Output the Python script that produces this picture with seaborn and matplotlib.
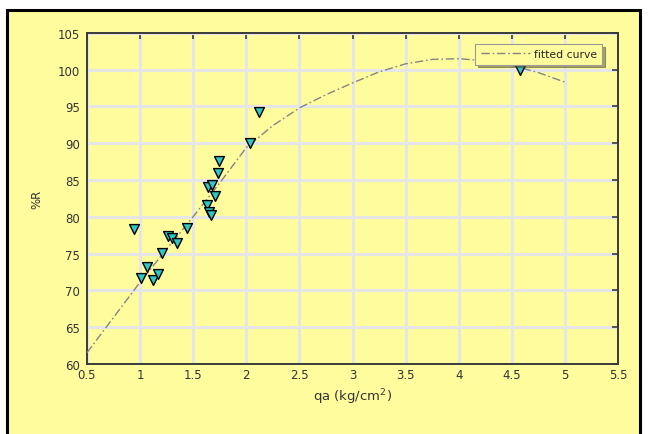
import matplotlib
matplotlib.use("Agg")
import matplotlib.pyplot as plt
import seaborn as sns
import pandas as pd
from matplotlib.patches import Rectangle

# Measured points: allowable bearing qa versus recovery %R
qa_obs = [0.94, 1.01, 1.07, 1.12, 1.17, 1.21, 1.26, 1.30, 1.35, 1.44,
          1.63, 1.65, 1.67, 1.64, 1.68, 1.71, 1.73, 1.74, 2.04, 2.12, 4.58]
r_obs = [78.4, 71.7, 73.2, 71.45, 72.2, 75.1, 77.4, 77.1, 76.5, 78.5,
         81.6, 80.6, 80.2, 84.1, 84.3, 82.9, 85.95, 87.6, 90.0, 94.3, 100.0]

# Fitted curve values
qa_fit = [0.5, 0.75, 1.0, 1.25, 1.5, 1.75, 2.0, 2.25, 2.5, 2.75, 3.0,
          3.25, 3.5, 3.75, 4.0, 4.25, 4.5, 4.75, 5.0]
r_fit = [61.5, 66.3, 71.1, 75.6, 80.0, 84.6, 89.4, 92.4, 94.8, 96.6, 98.2,
         99.7, 100.8, 101.4, 101.5, 101.2, 100.6, 99.6, 98.3]

x_ticks = [0.5, 1, 1.5, 2, 2.5, 3, 3.5, 4, 4.5, 5, 5.5]
x_tick_labels = ["0.5", "1", "1.5", "2", "2.5", "3", "3.5", "4", "4.5", "5", "5.5"]
y_ticks = [60, 65, 70, 75, 80, 85, 90, 95, 100, 105]

obs = pd.DataFrame({"qa": qa_obs, "R": r_obs})
fit = pd.DataFrame({"qa": qa_fit, "R": r_fit})

sns.set_theme(style="white")
plt.rcParams["font.family"] = ["DejaVu Sans"]

bg = "#FFFC9E"
fig = plt.figure(figsize=(6.48, 4.35), dpi=100, facecolor="white")
ax = fig.add_axes([0.134, 0.161, 0.820, 0.761])
# yellow panel with a black frame that runs off the bottom edge
fig.patches.append(Rectangle((7 / 648, -0.05), 633 / 648, 1.05 - 11 / 435,
                             transform=fig.transFigure, facecolor=bg,
                             edgecolor="black", linewidth=2.2, zorder=-10))
ax.set_facecolor(bg)

sns.lineplot(data=fit, x="qa", y="R", ax=ax, color="#858585", linewidth=1.0,
             linestyle=(0, (6, 2, 1.2, 2)), label="fitted curve", zorder=3)
sns.scatterplot(data=obs, x="qa", y="R", ax=ax, marker="v", s=50,
                color="#2EC8C8", edgecolor="black", linewidth=1.0,
                legend=False, zorder=4)

ax.set_xlim(0.5, 5.5)
ax.set_ylim(60, 105)
ax.set_xticks(x_ticks)
ax.set_xticklabels(x_tick_labels)
ax.set_yticks(y_ticks)
ax.grid(True, color="#E6E6E6", linewidth=2.2, zorder=0)
ax.set_axisbelow(True)
for s in ax.spines.values():
    s.set_color("#3A3A3A")
    s.set_linewidth(1.4)
ax.tick_params(direction="in", length=4, width=1.2, color="#3A3A3A",
               top=True, right=True, labelsize=8.5, labelcolor="#333333")
ax.tick_params(axis="y", pad=5)
ax.tick_params(axis="x", pad=3)
ax.set_xlabel("qa (kg/cm$^2$)", fontsize=9.5, color="#333333", labelpad=4)
ax.set_ylabel("%R", fontsize=8.5, color="#333333", labelpad=10)

leg = ax.legend(loc="upper right", bbox_to_anchor=(0.97, 0.967),
                borderaxespad=0, fontsize=7.8, handlelength=4.6,
                borderpad=0.5, handletextpad=0.3,
                frameon=True, fancybox=False, shadow=True,
                facecolor=bg, edgecolor="#9A9A9A", framealpha=1)
leg.get_frame().set_linewidth(0.8)

fig.savefig("out.png", dpi=100, facecolor="white")
